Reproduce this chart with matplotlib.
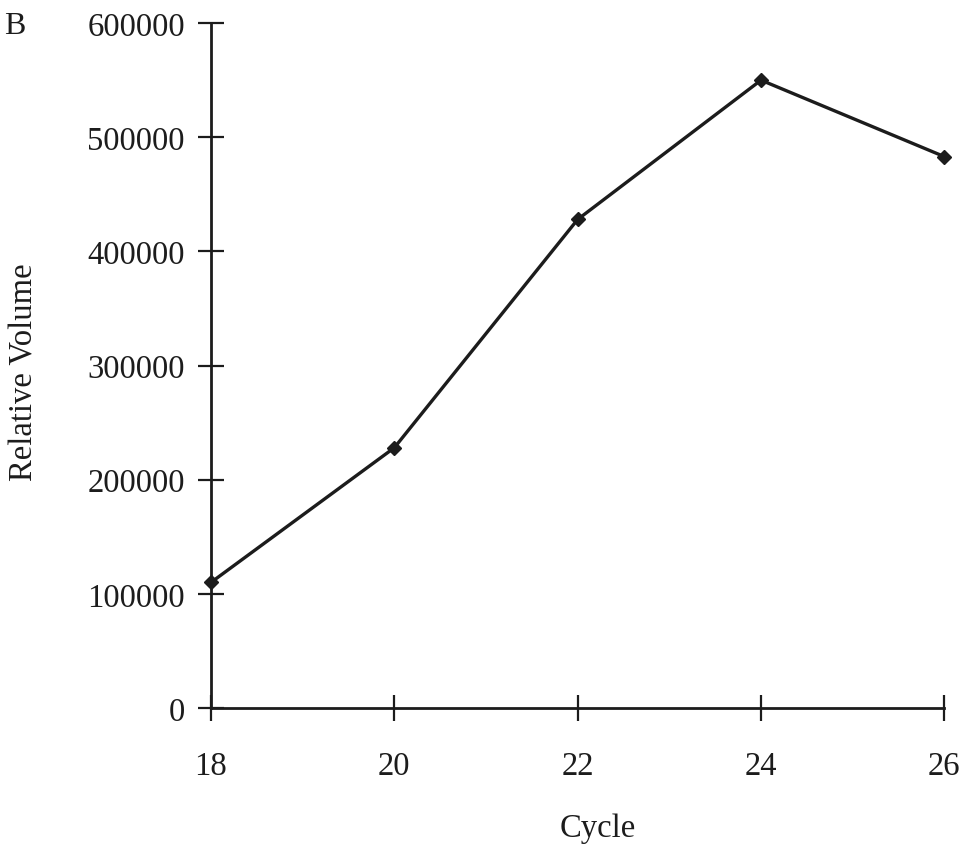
import matplotlib
matplotlib.use('Agg')
import matplotlib.pyplot as plt

# Relative volume against PCR cycle number
cycles = [18, 20, 22, 24, 26]
rel_volume = [110000, 228000, 428000, 550000, 483000]
x_ticks = [18, 20, 22, 24, 26]
y_ticks = [0, 100000, 200000, 300000, 400000, 500000, 600000]

plt.rcParams['font.family'] = ['Liberation Serif', 'DejaVu Serif']
ink = '#1c1c1c'

fig = plt.figure(figsize=(9.74, 8.54), dpi=100)
ax = fig.add_axes([0.2166, 0.1698, 0.753, 0.802])

ax.plot(cycles, rel_volume, color=ink, linewidth=2.4, marker='D',
        markersize=7.5, markerfacecolor=ink, markeredgecolor=ink, clip_on=False, zorder=3)

ax.set_xlim(18, 26)
ax.set_ylim(0, 600000)
ax.set_xticks(x_ticks)
ax.set_yticks(y_ticks)
ax.set_xticklabels([str(t) for t in x_ticks])
ax.set_yticklabels([str(t) for t in y_ticks])

for side in ['top', 'right']:
    ax.spines[side].set_visible(False)
for side in ['left', 'bottom']:
    ax.spines[side].set_linewidth(2.0)
    ax.spines[side].set_color(ink)

ax.tick_params(axis='both', direction='inout', length=18.5, width=1.6, color=ink,
               labelsize=23.5, labelcolor=ink)
ax.tick_params(axis='x', pad=21)
ax.tick_params(axis='y', pad=9.5)

ax.set_xlabel('Cycle', fontsize=23.5, color=ink)
ax.xaxis.set_label_coords(0.527, -0.152)
ax.set_ylabel('Relative Volume', fontsize=23.5, color=ink)
ax.yaxis.set_label_coords(-0.234, 0.492)

fig.text(4 / 974, 1 - 27 / 854, 'B', fontsize=23, color=ink, ha='left', va='center')

fig.savefig('out.png', dpi=100, facecolor='white')
